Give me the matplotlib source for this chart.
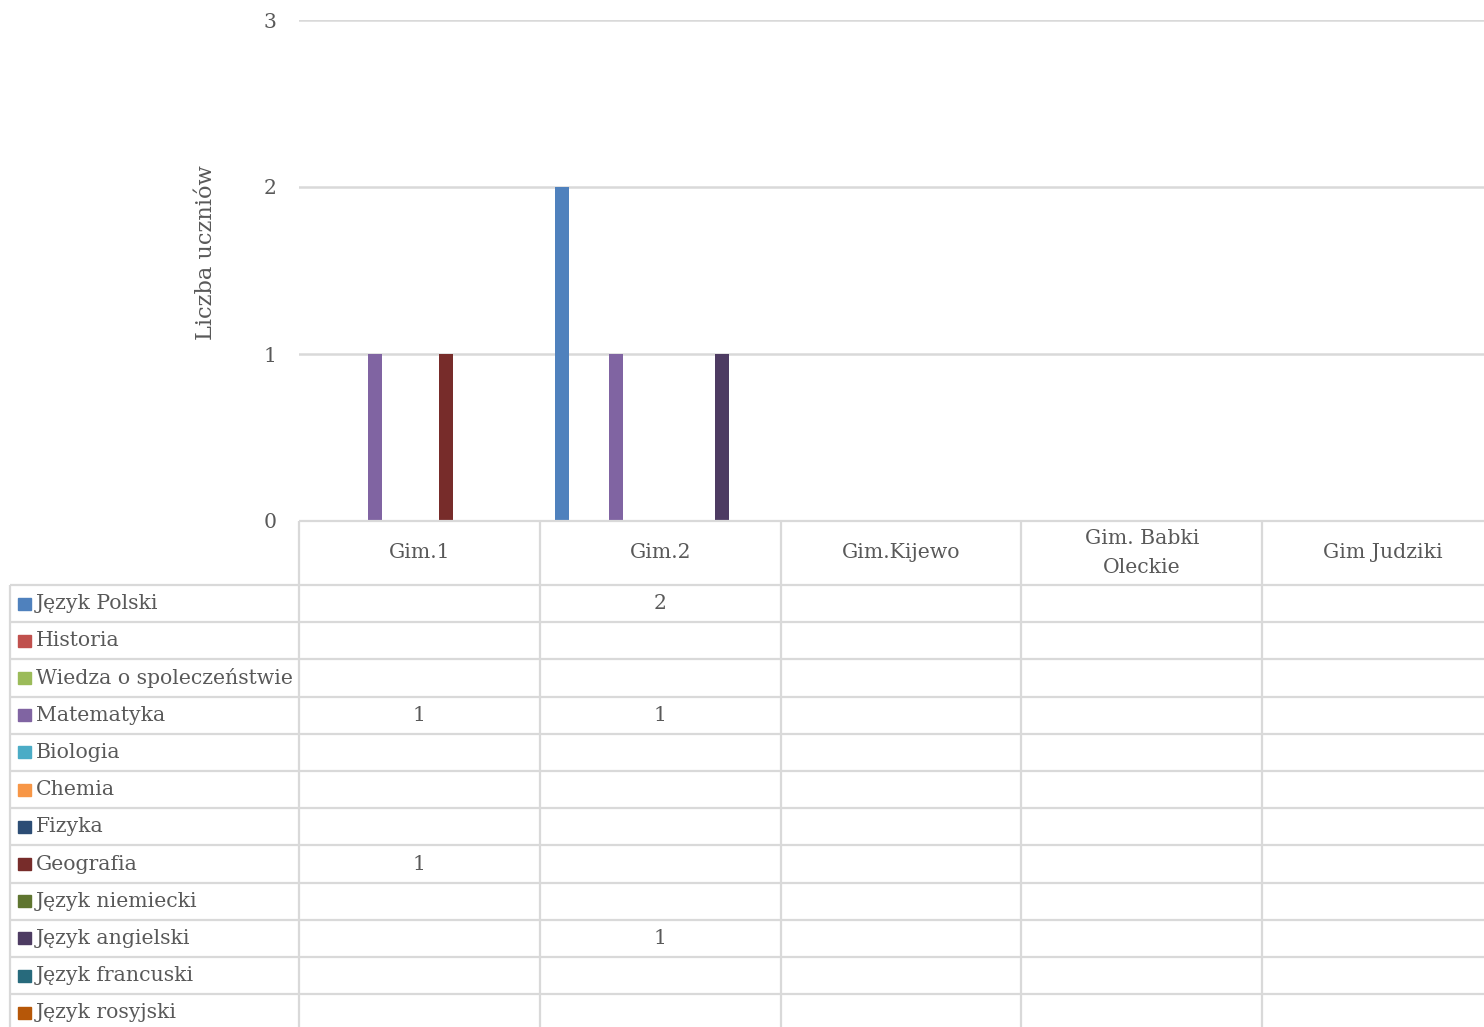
import numpy as np
import matplotlib
matplotlib.use("Agg")
import matplotlib.pyplot as plt

schools = ["Gim.1", "Gim.2", "Gim.Kijewo", "Gim. Babki\nOleckie", "Gim Judziki"]
subjects = ["Język Polski", "Historia", "Wiedza o spoleczeństwie", "Matematyka",
            "Biologia", "Chemia", "Fizyka", "Geografia", "Język niemiecki",
            "Język angielski", "Język francuski", "Język rosyjski"]
colors = ["#4F81BD", "#C0504D", "#9BBB59", "#8064A2", "#4BACC6", "#F79646",
          "#2C4D75", "#772C2A", "#5F7530", "#4D3B62", "#276A7C", "#B65708"]

# None = empty cell in the source table
counts = {
    "Język Polski":            [None, 2, None, None, None],
    "Historia":                [None, None, None, None, None],
    "Wiedza o spoleczeństwie": [None, None, None, None, None],
    "Matematyka":              [1, 1, None, None, None],
    "Biologia":                [None, None, None, None, None],
    "Chemia":                  [None, None, None, None, None],
    "Fizyka":                  [None, None, None, None, None],
    "Geografia":               [1, None, None, None, None],
    "Język niemiecki":         [None, None, None, None, None],
    "Język angielski":         [None, 1, None, None, None],
    "Język francuski":         [None, None, None, None, None],
    "Język rosyjski":          [None, None, None, None, None],
}

plt.rcParams['font.family'] = ['DejaVu Serif']
txt = "#595959"
grid = "#D9D9D9"
fs = 14.7

W, H = 1484, 1027
fig = plt.figure(figsize=(W / 100, H / 100), dpi=100)

# plot area in pixels (right side runs past the image edge)
left, right, top, bottom = 299, 1503, 20, 521
ax = fig.add_axes([left / W, 1 - bottom / H, (right - left) / W, (bottom - top) / H])

x = np.arange(len(schools))
step = 0.0739
bw = 0.058
n = len(subjects)
for i, (s, c) in enumerate(zip(subjects, colors)):
    vals = np.array([np.nan if v is None else v for v in counts[s]], dtype=float)
    ax.bar(x + (i - (n - 1) / 2) * step, np.nan_to_num(vals), width=bw, color=c, zorder=3)

ax.set_xlim(-0.5, len(schools) - 0.5)
ax.set_ylim(0, 3)
ax.set_yticks([0, 1, 2, 3])
ax.set_xticks([])
ax.grid(axis='y', color=grid, linewidth=1.8, zorder=0)
for sp in ax.spines.values():
    sp.set_visible(False)
ax.tick_params(axis='y', length=0, labelsize=fs, labelcolor=txt, pad=16)
ax.set_ylabel("Liczba uczniów", fontsize=fs + 1.5, color=txt)
ax.yaxis.set_label_coords(-0.068, 0.535)

# data table below the plot, sharing the category x scale
tab = fig.add_axes([left / W, 0, (right - left) / W, (H - bottom) / H])
tab.set_xlim(-0.5, len(schools) - 0.5)
tab.set_ylim(H - bottom, 0)
tab.axis('off')

head_h = 64
row_h = 37.2
col_w = len(schools) / (right - left)  # data units per pixel
x_left = -0.5 - (left - 10) * col_w
ymax = H - bottom

lk = dict(color=grid, linewidth=1.6, clip_on=False, solid_capstyle='butt')
tab.plot([-0.5, len(schools) - 0.5], [0, 0], **lk)
tab.plot([x_left, len(schools) - 0.5], [head_h, head_h], **lk)
for r in range(1, n + 1):
    yy = head_h + r * row_h
    if yy < ymax:
        tab.plot([x_left, len(schools) - 0.5], [yy, yy], **lk)
for k in range(len(schools) + 1):
    tab.plot([k - 0.5, k - 0.5], [0, ymax], **lk)
tab.plot([x_left, x_left], [head_h, ymax], **lk)

for k, name in enumerate(schools):
    tab.text(k, head_h / 2, name, ha='center', va='center', fontsize=fs,
             color=txt, linespacing=1.65)

for i, (s, c) in enumerate(zip(subjects, colors)):
    yc = head_h + (i + 0.5) * row_h
    tab.add_patch(plt.Rectangle((x_left + 8 * col_w, yc - 6), 13 * col_w, 12,
                                color=c, clip_on=False))
    tab.text(x_left + 26 * col_w, yc, s, ha='left', va='center', fontsize=fs,
             color=txt, clip_on=False)
    for k, v in enumerate(counts[s]):
        if v is not None:
            tab.text(k, yc, str(v), ha='center', va='center', fontsize=fs, color=txt)

fig.savefig("out.png", dpi=100)
